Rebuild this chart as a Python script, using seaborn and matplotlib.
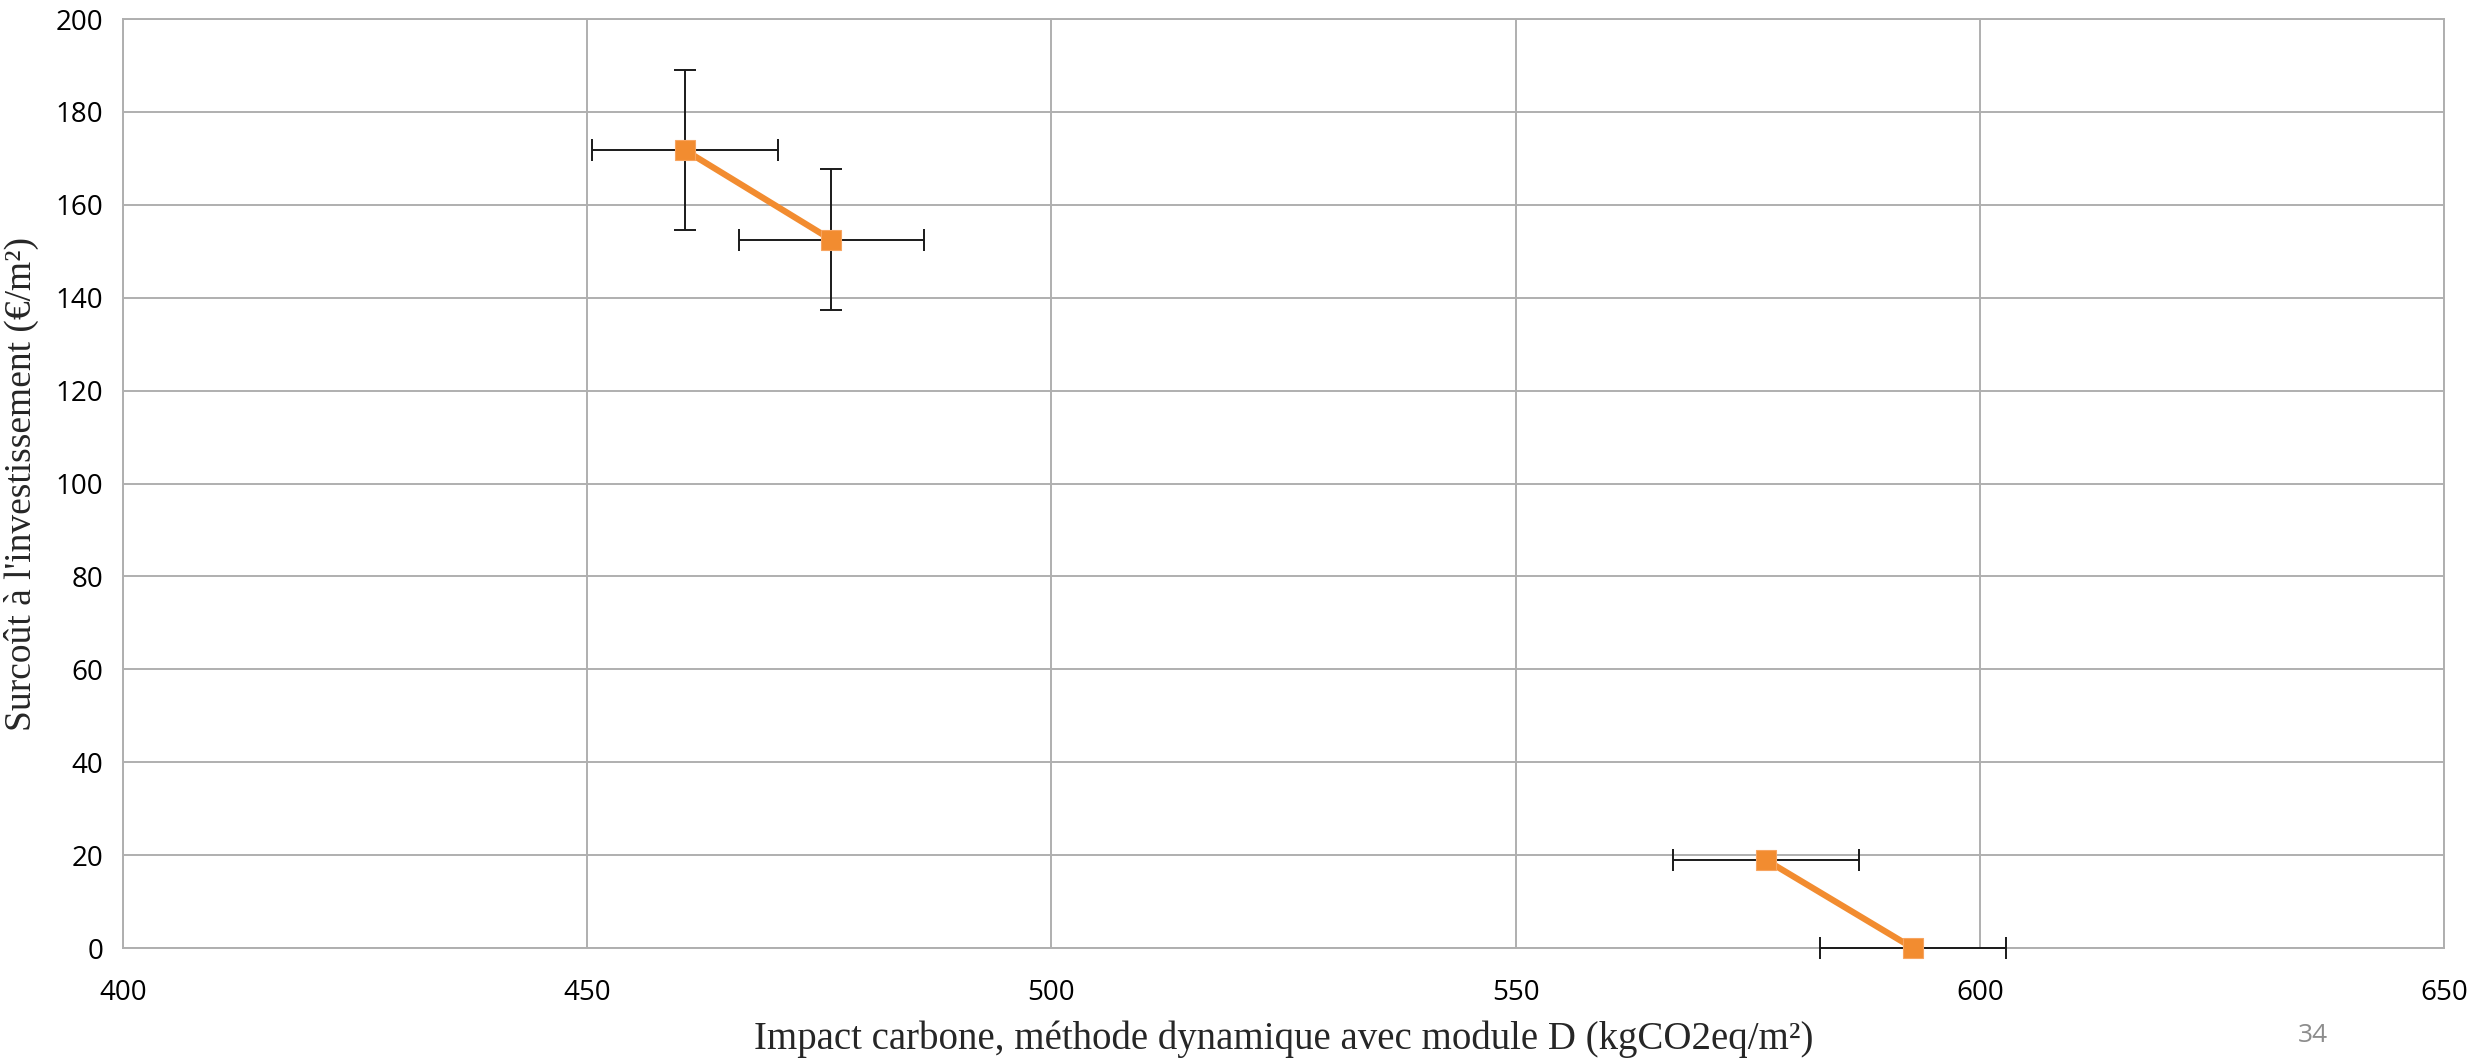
import matplotlib
matplotlib.use("Agg")
import matplotlib.pyplot as plt
import seaborn as sns
import pandas as pd

# Data
series = ["Groupe 1", "Groupe 1", "Groupe 2", "Groupe 2"]
impact_x = [460.5, 476.3, 577.0, 592.8]
surcout_y = [171.8, 152.5, 18.9, 0.0]
err_x = [10.0, 10.0, 10.0, 10.0]
err_y = [17.2, 15.2, 0.0, 0.0]
x_ticks = [400, 450, 500, 550, 600, 650]
y_ticks = [0, 20, 40, 60, 80, 100, 120, 140, 160, 180, 200]

df = pd.DataFrame({"serie": series, "x": impact_x, "y": surcout_y,
                   "ex": err_x, "ey": err_y})

sns.set_theme(style="white")
plt.rcParams['font.family'] = ['Open Sans', 'DejaVu Sans']

ORANGE = "#F28C30"
GRID = "#AFAFAF"

fig = plt.figure(figsize=(24.74, 10.64), dpi=100)
ax = fig.add_axes([0.0497, 0.109, 0.9382, 0.8731])

# error bars (under markers)
for _, r in df.iterrows():
    ax.errorbar(r["x"], r["y"], xerr=r["ex"], yerr=(r["ey"] if r["ey"] > 0 else None),
                fmt="none", ecolor="#1a1a1a", elinewidth=1.4, capsize=8,
                capthick=1.4, zorder=3, clip_on=False)

sns.lineplot(data=df, x="x", y="y", hue="serie",
             palette=[ORANGE, ORANGE], marker="s", markersize=15,
             markeredgecolor="#F7A460", markeredgewidth=0.8,
             linewidth=4.5, legend=False, ax=ax, zorder=4, sort=False)
for ln in ax.lines:
    ln.set_clip_on(False)

ax.set_xlim(400, 650)
ax.set_ylim(0, 200)
ax.set_xticks(x_ticks)
ax.set_yticks(y_ticks)
ax.grid(True, color=GRID, linewidth=1.4)
ax.set_axisbelow(True)
for s in ax.spines.values():
    s.set_color(GRID)
    s.set_linewidth(1.4)
ax.tick_params(axis="both", length=0, labelsize=20, colors="black")
ax.tick_params(axis="x", pad=22)
ax.tick_params(axis="y", pad=14)

ax.set_xlabel("Impact carbone, méthode dynamique avec module D (kgCO2eq/m²)",
              fontsize=28, family=["Liberation Serif", "DejaVu Serif"], labelpad=10)
ax.set_ylabel("Surcoût à l'investissement (€/m²)",
              fontsize=27, family=["Liberation Serif", "DejaVu Serif"], labelpad=12)

fig.text(2313 / 2474, 1 - 1035 / 1064, "34", fontsize=19, color="#8C8C8C",
         ha="center", va="center")

fig.savefig("out.png", dpi=100)
